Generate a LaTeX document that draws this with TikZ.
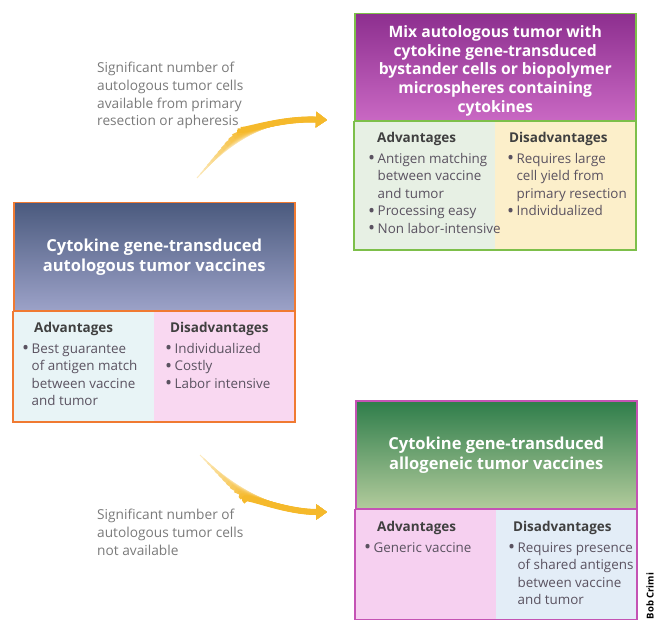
\documentclass[tikz,border=0pt]{standalone}
\usepackage{fontspec}
\usepackage{graphicx}
\setmainfont{Open Sans}
\usetikzlibrary{arrows.meta, positioning}

% box colours
\definecolor{mixtop}{HTML}{8D2F8F}
\definecolor{mixbot}{HTML}{C968C3}
\definecolor{mixline}{HTML}{7DBF4A}
\definecolor{mixadvfill}{HTML}{E7F0E4}
\definecolor{mixdisfill}{HTML}{FCEFCA}
\definecolor{autotop}{HTML}{4B5A7E}
\definecolor{autobot}{HTML}{9CA2C8}
\definecolor{autoline}{HTML}{F07A32}
\definecolor{autoadvfill}{HTML}{E8F4F6}
\definecolor{autodisfill}{HTML}{F9D8F1}
\definecolor{allotop}{HTML}{2E7D4A}
\definecolor{allobot}{HTML}{B2CB9C}
\definecolor{alloline}{HTML}{C453B4}
\definecolor{alloadvfill}{HTML}{F6D0F0}
\definecolor{allodisfill}{HTML}{E3EDF7}
\definecolor{bodygray}{HTML}{5A5260}
\definecolor{notegray}{HTML}{7A7A7A}
\definecolor{flowgold}{HTML}{F5B92A}

\newcommand{\bul}{\makebox[8.5pt][l]{\hspace*{-1pt}\raisebox{-1.3pt}{\scalebox{1.4}{\textbullet}}}}
\newcommand{\gap}{\hspace*{8.5pt}}
\newcommand{\hd}[2][10pt]{\hspace*{#1}{\fontsize{13.5}{17}\selectfont\bfseries\color{black!75}#2}\\[3pt]}

\begin{document}
\begin{tikzpicture}[
  x=1pt, y=-1pt,
  head/.style={rectangle, line width=1.5pt, minimum width=281pt, minimum height=107pt, inner sep=0pt, anchor=north west, align=center, text=white, font=\fontsize{16.5}{20}\selectfont\bfseries},
  panel/.style={rectangle, minimum width=140.5pt, inner sep=0pt},
  ptext/.style={anchor=north west, align=left, inner sep=0pt, text=bodygray, font=\fontsize{13.4}{17.5}\selectfont},
  note/.style={anchor=north west, align=left, inner sep=0pt, text=notegray, font=\fontsize{13.7}{17.7}\selectfont},
  frame/.style={line width=1.5pt}
]
\useasboundingbox (0,0) rectangle (664,620);

% Top right: mixed autologous tumor
\node[head, draw=mixline, top color=mixtop, bottom color=mixbot, font=\fontsize{15.7}{18.8}\selectfont\bfseries] (mixhead) at (354,13)
  {\rule{0pt}{19pt}Mix autologous tumor with\\cytokine gene-transduced\\bystander cells or biopolymer\\microspheres containing\\cytokines};
\node[panel, fill=mixadvfill, minimum height=128pt, anchor=north west] (mixadv) at (mixhead.south west) {};
\node[panel, fill=mixdisfill, minimum height=128pt, right=0pt of mixadv] (mixdis) {};
\draw[frame, mixline] (mixadv.north west) rectangle (mixdis.south east);
\node[ptext, xshift=15pt, yshift=-11pt] (mixadvtxt) at (mixadv.north west)
  {\hd[8pt]{Advantages}\bul Antigen matching\\\gap between vaccine\\\gap and tumor\\\bul Processing easy\\\bul Non labor-intensive};
\node[ptext, xshift=13pt, yshift=-11pt] (mixdistxt) at (mixdis.north west)
  {\hd[1pt]{Disadvantages}\bul Requires large\\\gap cell yield from\\\gap primary resection\\\bul Individualized};

% Left: autologous tumor vaccines
\node[head, draw=autoline, top color=autotop, bottom color=autobot, minimum height=108pt] (autohead) at (13,202)
  {Cytokine gene-transduced\\autologous tumor vaccines};
\node[panel, fill=autoadvfill, minimum height=110pt, anchor=north west] (autoadv) at (autohead.south west) {};
\node[panel, fill=autodisfill, minimum height=110pt, right=0pt of autoadv] (autodis) {};
\draw[frame, autoline] (autoadv.north west) rectangle (autodis.south east);
\node[ptext, xshift=10pt, yshift=-11pt] (autoadvtxt) at (autoadv.north west)
  {\hd[11pt]{Advantages}\bul Best guarantee\\\gap of antigen match\\\gap between vaccine\\\gap and tumor};
\node[ptext, xshift=12pt, yshift=-11pt] (autodistxt) at (autodis.north west)
  {\hd[4pt]{Disadvantages}\bul Individualized\\\bul Costly\\\bul Labor intensive};

% Bottom right: allogeneic tumor vaccines
\node[head, draw=alloline, top color=allotop, bottom color=allobot, minimum height=108pt] (allohead) at (355,400)
  {Cytokine gene-transduced\\allogeneic tumor vaccines};
\node[panel, fill=alloadvfill, minimum height=110pt, anchor=north west] (alloadv) at (allohead.south west) {};
\node[panel, fill=allodisfill, minimum height=110pt, right=0pt of alloadv] (allodis) {};
\draw[frame, alloline] (alloadv.north west) rectangle (allodis.south east);
\node[ptext, xshift=10pt, yshift=-12pt] (alloadvtxt) at (alloadv.north west)
  {\hd[12pt]{Advantages}\bul Generic vaccine};
\node[ptext, xshift=13pt, yshift=-12pt] (allodistxt) at (allodis.north west)
  {\hd[4pt]{Disadvantages}\bul Requires presence\\\gap of shared antigens\\\gap between vaccine\\\gap and tumor};

% Notes beside the arrows
\node[note] (upnote) at (97,62)
  {Significant number of\\autologous tumor cells\\available from primary\\resection or apheresis};
\node[note] (downnote) at (97,509)
  {Significant number of\\autologous tumor cells\\not available};

% Curved arrows, drawn in layers so the tail tapers and fades
\coordinate (upfrom) at (197,178);
\coordinate (upto) at (327,120);
\coordinate (downfrom) at (200,455);
\coordinate (downto) at (327,512);
\foreach \i in {0,...,12} {
  \pgfmathsetmacro\w{1+0.42*\i}
  \pgfmathsetmacro\s{5.5*\i}
  \pgfmathsetmacro\p{30+5.8*\i}
  \draw[line width=\w pt, shorten <=\s pt, flowgold!\p!white, -{Triangle[length=11pt, width=15pt]}]
    (upfrom) .. controls (235,135) and (275,118) .. (upto);
  \draw[line width=\w pt, shorten <=\s pt, flowgold!\p!white, -{Triangle[length=11pt, width=15pt]}]
    (downfrom) .. controls (235,490) and (280,512) .. (downto);
}

% Credit line
\node[rotate=90, inner sep=0pt, font=\fontsize{9.5}{11}\selectfont\bfseries] (credit) at (650,596) {Bob Crimi};

\end{tikzpicture}
\end{document}
